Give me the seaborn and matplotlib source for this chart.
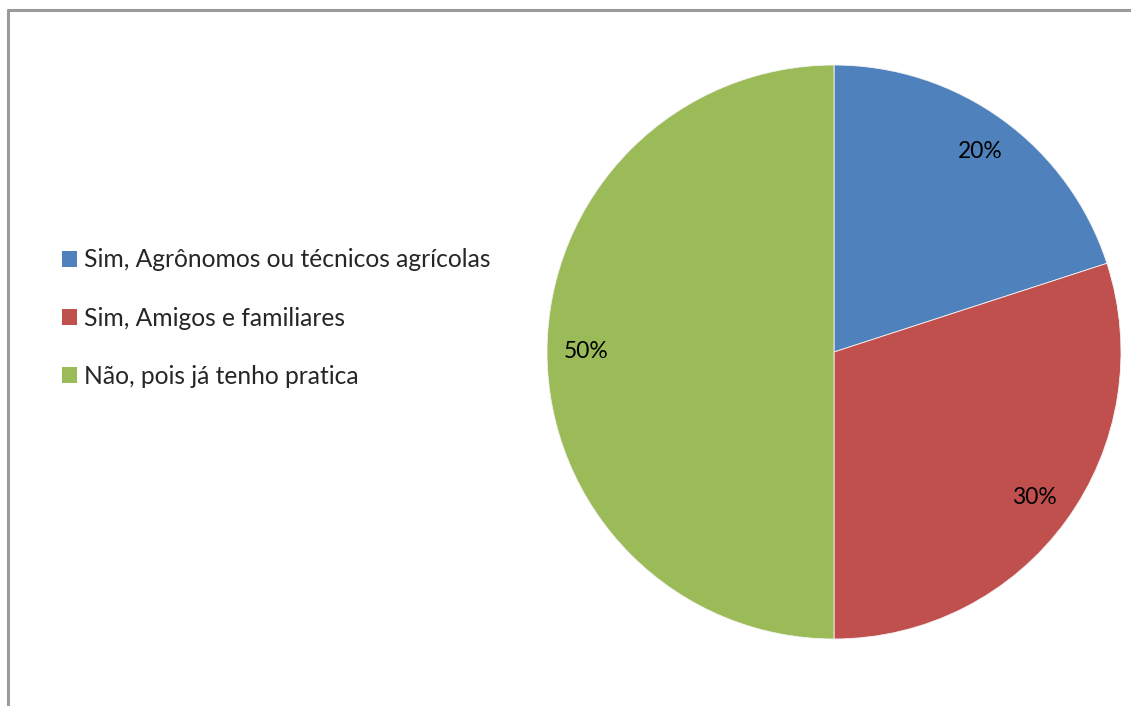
import matplotlib
matplotlib.use("Agg")
import matplotlib.pyplot as plt
from matplotlib.lines import Line2D
from matplotlib.patches import Patch
import seaborn as sns

# Survey answers and their shares (%)
categories = ["Sim, Agrônomos ou técnicos agrícolas",
              "Sim, Amigos e familiares",
              "Não, pois já tenho pratica"]
shares = [20, 30, 50]
colors = ["#4F81BD", "#C0504D", "#9BBB59"]

sns.set_theme(style="white")
plt.rcParams["font.family"] = ["Lato", "DejaVu Sans"]

W, H = 1131, 706
fig = plt.figure(figsize=(W / 100, H / 100), dpi=100)
fig.patch.set_facecolor("white")

# Chart frame (top and left edges visible)
fig.add_artist(Line2D([8 / W, 8 / W], [0, 1 - 10 / H], transform=fig.transFigure,
                      color="#9a9a9a", lw=2.2))
fig.add_artist(Line2D([8 / W, 1], [1 - 10 / H, 1 - 10 / H], transform=fig.transFigure,
                      color="#9a9a9a", lw=2.2))

# Pie axes: centre (834, 352) px, radius 287 px
cx, cy, r = 834, 352, 287
ax = fig.add_axes([(cx - r) / W, (H - cy - r) / H, 2 * r / W, 2 * r / H])
wedges, texts, autotexts = ax.pie(
    shares, colors=colors, startangle=90, counterclock=False,
    autopct=lambda p: f"{p:.0f}%", pctdistance=0.865,
    wedgeprops=dict(edgecolor="#f4f4f4", linewidth=0.6),
    textprops=dict(fontsize=16.5, color="black"))
ax.set_xlim(-1, 1)
ax.set_ylim(-1, 1)
ax.set_aspect("equal")
ax.axis("off")

handles = [Patch(facecolor=c, edgecolor="none") for c in colors]
fig.legend(handles, categories, loc="center left",
           bbox_to_anchor=(52 / W, 1 - 318 / H), frameon=False,
           fontsize=17.7, handlelength=0.62, handleheight=0.62,
           handletextpad=0.3, labelspacing=1.43, borderaxespad=0)

fig.savefig("out.png", dpi=100, facecolor="white")
